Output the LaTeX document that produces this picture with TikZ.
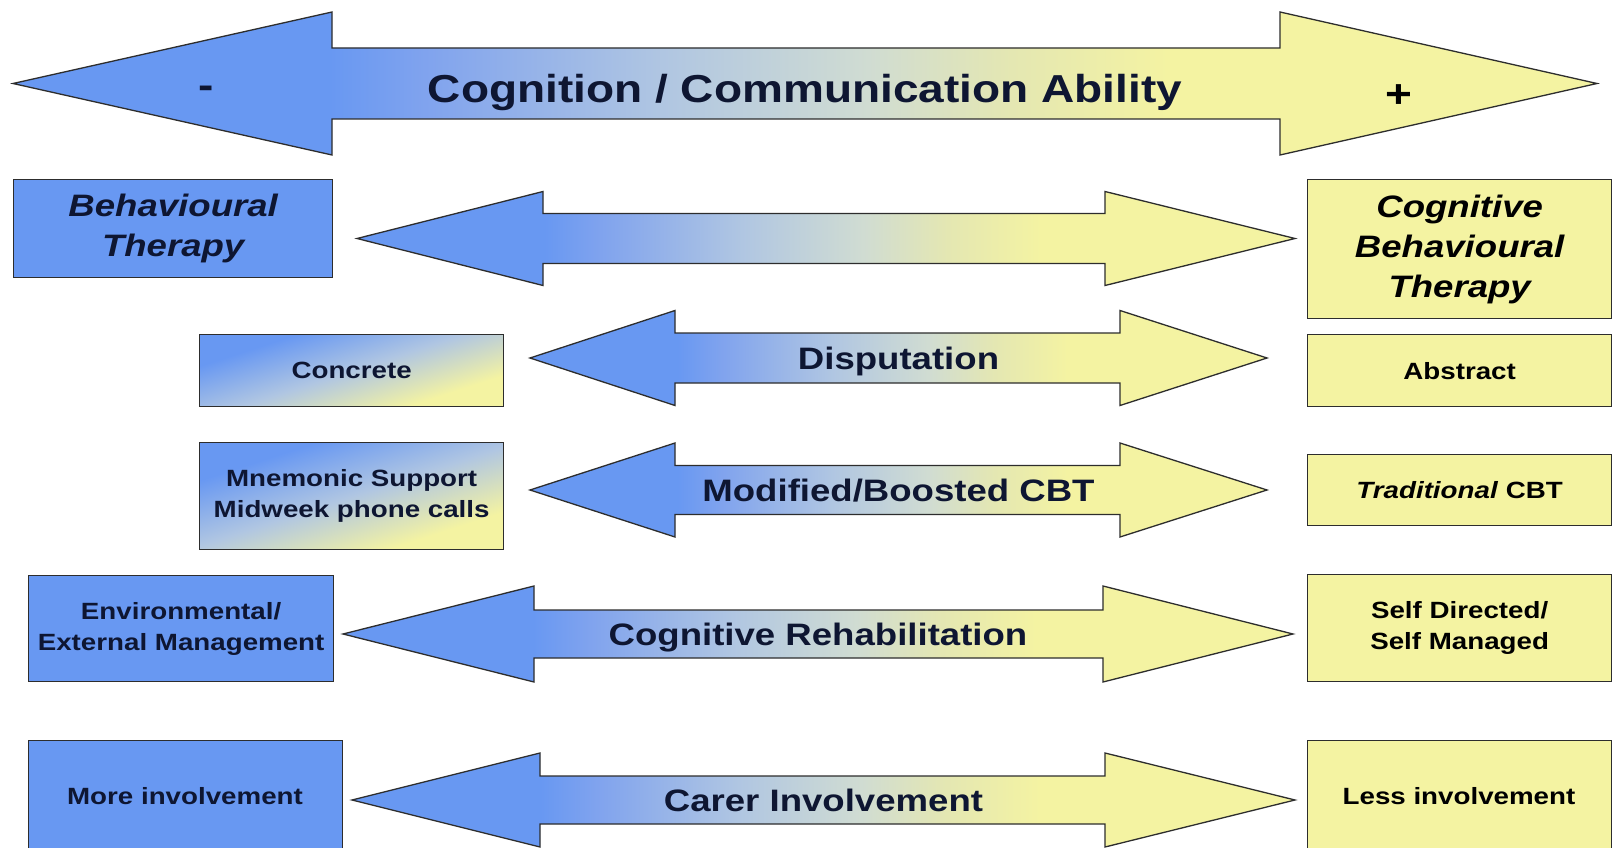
\documentclass[tikz,border=0pt]{standalone}
\usepackage{fontspec}
\setmainfont[FakeStretch=1.18]{Liberation Sans}
\usepackage{tikz}

\definecolor{cornblue}{RGB}{104,152,242}
\definecolor{softblue}{RGB}{128,163,238}
\definecolor{greyblue}{RGB}{176,198,226}
\definecolor{midgrey}{RGB}{208,220,210}
\definecolor{greenish}{RGB}{228,231,178}
\definecolor{paleyellow}{RGB}{244,243,162}
\definecolor{inknavy}{RGB}{14,22,50}
\definecolor{edgegrey}{RGB}{45,45,45}

\pgfdeclarehorizontalshading{blueyellow}{100bp}{color(0bp)=(cornblue); color(35bp)=(cornblue);
  color(38bp)=(softblue); color(45.5bp)=(greyblue); color(52bp)=(midgrey); color(56.5bp)=(greenish);
  color(61.5bp)=(paleyellow); color(100bp)=(paleyellow)}
\pgfdeclarehorizontalshading{boxfade}{100bp}{color(0bp)=(cornblue); color(30bp)=(cornblue);
  color(50bp)=(greyblue); color(70bp)=(paleyellow); color(100bp)=(paleyellow)}

% name, left tip, left back, right back, right tip, mid y, half shaft, half head
\newcommand{\twohead}[8]{%
  \path[arrowshape] (#2,#6) -- (#3,#6-#8) -- (#3,#6-#7) -- (#4,#6-#7) -- (#4,#6-#8) -- (#5,#6)
    -- (#4,#6+#8) -- (#4,#6+#7) -- (#3,#6+#7) -- (#3,#6+#8) -- cycle;
  \coordinate (#1) at ({(#2+#5)/2},#6);}

\begin{document}
\begin{tikzpicture}[x=1pt,y=-1pt,
   arrowshape/.style={draw=edgegrey,line width=1.3pt,shade,shading=blueyellow},
   card/.style={draw=edgegrey,line width=1.3pt,anchor=north west,inner sep=0pt,align=center,
     text=inknavy,font=\bfseries\fontsize{23.5}{31}\selectfont},
   bluecard/.style={card,fill=cornblue},
   yellowcard/.style={card,fill=paleyellow,text=black},
   fadecard/.style={card,shade,shading=boxfade,shading angle=-72},
   bigtext/.style={font=\bfseries\itshape\fontsize{31}{40}\selectfont},
   arrowtext/.style={anchor=base,yshift=-11pt,text=inknavy,font=\bfseries\fontsize{31}{36}\selectfont},
   ]
   \fill[white] (0,0) rectangle (1618,848);
   \useasboundingbox (0,0) rectangle (1618,848);
   \clip (0,0) rectangle (1618,848);

   % arrows
   \twohead{ability}{13}{332}{1280}{1597}{83.5}{35.5}{71.5}
   \twohead{therapy}{357}{543}{1105}{1295}{238.5}{25}{47}
   \twohead{disput}{530}{675}{1120}{1267}{358}{25}{47.5}
   \twohead{boosted}{530}{675}{1120}{1267}{490}{24.5}{47}
   \twohead{rehab}{343}{534}{1103}{1293}{634}{24}{48}
   \twohead{carer}{352}{540}{1105}{1295}{800}{24}{47}

   \node[arrowtext,yshift=-8.5pt,font=\bfseries\fontsize{39}{44}\selectfont] (abilitytext) at (ability)
     {Cognition / Communication Ability};
   \node[text=inknavy,font=\bfseries\fontsize{39}{44}\selectfont] (minus) at (206,92) {-};
   \node[text=black,font=\bfseries\fontsize{39}{44}\selectfont] (plus) at (1399,96) {+};
   \node[arrowtext] (disputtext) at (disput) {Disputation};
   \node[arrowtext] (boostedtext) at (boosted) {Modified/Boosted CBT};
   \node[arrowtext] (rehabtext) at (rehab) {Cognitive Rehabilitation};
   \node[arrowtext] (carertext) at (carer) {Carer Involvement};

   % left column
   \node[bluecard,bigtext,minimum width=319pt,minimum height=98pt] (behav) at (13,179)
     {Behavioural\\Therapy};
   \node[fadecard,minimum width=304pt,minimum height=72pt] (concrete) at (199,334) {Concrete};
   \node[fadecard,minimum width=304pt,minimum height=107pt] (mnemonic) at (199,442)
     {Mnemonic Support\\Midweek phone calls};
   \node[bluecard,minimum width=305pt,minimum height=106pt] (external) at (28,575)
     {Environmental/\\External Management};
   \node[bluecard,minimum width=314pt,minimum height=120pt] (more) at (28,740) {};
   \node[text=inknavy,font=\bfseries\fontsize{23.5}{31}\selectfont] (moretext) at (185,796) {More involvement};

   % right column
   \node[yellowcard,bigtext,minimum width=304pt,minimum height=139pt] (cbt) at (1307,179)
     {Cognitive\\Behavioural\\Therapy};
   \node[yellowcard,minimum width=304pt,minimum height=72pt] (abstract) at (1307,334) {Abstract};
   \node[yellowcard,minimum width=304pt,minimum height=71pt] (tradcbt) at (1307,454)
     {\textit{Traditional} CBT};
   \node[yellowcard,minimum width=304pt,minimum height=107pt] (selfdir) at (1307,574)
     {Self Directed/\\Self Managed};
   \node[yellowcard,minimum width=304pt,minimum height=120pt] (less) at (1307,740) {};
   \node[text=black,font=\bfseries\fontsize{23.5}{31}\selectfont] (lesstext) at (1459,796) {Less involvement};
\end{tikzpicture}
\end{document}
